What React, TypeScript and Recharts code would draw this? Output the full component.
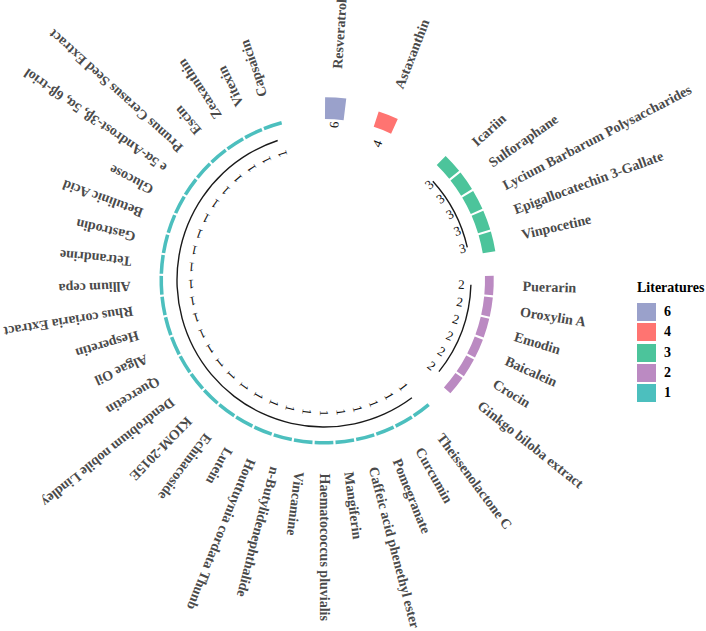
import { PieChart, Pie, Cell, Sector, Legend } from 'recharts';

// compounds grouped by number of literatures
const names6 = ['Resveratrol'];
const names4 = ['Astaxanthin'];
const names3 = ['Icariin', 'Sulforaphane', 'Lycium Barbarum Polysaccharides', 'Epigallocatechin 3-Gallate', 'Vinpocetine'];
const names2 = ['Puerarin', 'Oroxylin A', 'Emodin', 'Baicalein', 'Crocin', 'Ginkgo biloba extract'];
const names1 = [
  'Theissenolactone C', 'Curcumin', 'Pomegranate', 'Caffeic acid phenethyl ester', 'Mangiferin',
  'Haematococcus pluvialis', 'Vincamine', 'n-Butylidenephthalide', 'Houttuynia cordata Thunb', 'Lutein',
  'Echinacoside', 'KIOM-2015E', 'Dendrobium nobile Lindley', 'Quercetin', 'Algae Oil', 'Hesperetin',
  'Rhus coriaria Extract', 'Allium cepa', 'Tetrandrine', 'Gastrodin', 'Betulinic Acid', 'Glucose',
  'e 5α-Androst-3β, 5α, 6β-triol', 'Prunus Cerasus Seed Extract', 'Escin', 'Zeaxanthin', 'Vitexin', 'Capsaicin',
];

const literatureCounts = [6, 4, 3, 2, 1];
const groupNames = [names6, names4, names3, names2, names1];
// empty slots after each group
const gapAfter = [1.4, 2.6, 1, 1, 2];
const colors = ['#9AA1CB', '#FF7471', '#4CC49B', '#BB8AC2', '#4CBFBE'];

const slots = groupNames.flatMap((names, g) => [
  ...names.map((name) => ({ name, count: literatureCounts[g], color: colors[g], span: 1 })),
  { name: '', count: 0, color: 'none', span: gapAfter[g] },
]);

// black guide arcs from first to last bar of each group
const arcs = groupNames.flatMap((names, g) =>
  names.length > 1
    ? [
        { span: 0.5, on: false },
        { span: names.length - 1, on: true },
        { span: 0.5 + gapAfter[g], on: false },
      ]
    : [{ span: names.length + gapAfter[g], on: false }]
);

const CX = 324;
const CY = 280;
const R_INNER = 161;
const rOuter = (n: number) => 152 + 12.55 * Math.sqrt(n);
const rCount = (n: number) => 128.5 + 4.5 * n;
const RAD = Math.PI / 180;

const renderBar = (p: any) => {
  const d = p.payload ?? p;
  if (!d || !d.count) return null;
  const { cx, cy, midAngle, startAngle, endAngle } = p;
  const outer = rOuter(d.count);
  const pad = (1.1 / outer) / RAD;
  const dir = Math.sign(endAngle - startAngle) || -1;
  const pt = (r: number) => [cx + r * Math.cos(-midAngle * RAD), cy + r * Math.sin(-midAngle * RAD)];
  const [nx, ny] = pt(outer + 29);
  const [vx, vy] = pt(rCount(d.count));
  return (
    <g key={`bar-${p.index}`}>
      <Sector
        cx={cx}
        cy={cy}
        innerRadius={R_INNER}
        outerRadius={outer}
        startAngle={startAngle + dir * pad}
        endAngle={endAngle - dir * pad}
        fill={d.color}
        stroke="none"
      />
      <text
        x={nx}
        y={ny}
        transform={`rotate(${-midAngle} ${nx} ${ny})`}
        textAnchor="start"
        dominantBaseline="central"
        fontFamily="'Liberation Serif', serif"
        fontWeight="bold"
        fontSize={14}
        fill="#4a4a4a"
      >
        {d.name}
      </text>
      <text
        x={vx}
        y={vy}
        transform={`rotate(${-midAngle} ${vx} ${vy})`}
        textAnchor="middle"
        dominantBaseline="central"
        fontFamily="'Liberation Serif', serif"
        fontSize={13}
        fill="#111"
      >
        {d.count}
      </text>
    </g>
  );
};

const renderLegend = () => (
  <div style={{ fontFamily: "'Liberation Serif', serif", fontWeight: 'bold', color: '#000', whiteSpace: 'nowrap' }}>
    <div style={{ fontSize: 14, lineHeight: '20px', height: 24 }}>Literatures</div>
    {literatureCounts.map((n, i) => (
      <div key={n} style={{ display: 'flex', alignItems: 'center', height: 20.25 }}>
        <div style={{ width: 19, height: 18, background: colors[i] }} />
        <span style={{ fontSize: 14, marginLeft: 8 }}>{n}</span>
      </div>
    ))}
  </div>
);

export default function App() {
  return (
    <div style={{ position: 'absolute', left: 0, top: 0 }}>
      <PieChart width={706} height={631} margin={{ top: 0, right: 0, bottom: 0, left: 0 }}>
        <Pie
          data={arcs}
          dataKey="span"
          cx={CX}
          cy={CY}
          innerRadius={146.3}
          outerRadius={147.7}
          startAngle={90}
          endAngle={-270}
          stroke="none"
          isAnimationActive={false}
        >
          {arcs.map((a, i) => (
            <Cell key={i} fill={a.on ? '#1a1a1a' : 'none'} />
          ))}
        </Pie>
        <Pie
          data={slots}
          dataKey="span"
          nameKey="name"
          cx={CX}
          cy={CY}
          innerRadius={R_INNER}
          outerRadius={R_INNER + 4}
          startAngle={90}
          endAngle={-270}
          fill="none"
          stroke="none"
          label={renderBar}
          labelLine={false}
          isAnimationActive={false}
        />
        <Legend
          layout="vertical"
          align="right"
          verticalAlign="middle"
          content={renderLegend}
          wrapperStyle={{ left: 637, top: 278, right: 'auto', bottom: 'auto', width: 80 }}
        />
      </PieChart>
    </div>
  );
}
